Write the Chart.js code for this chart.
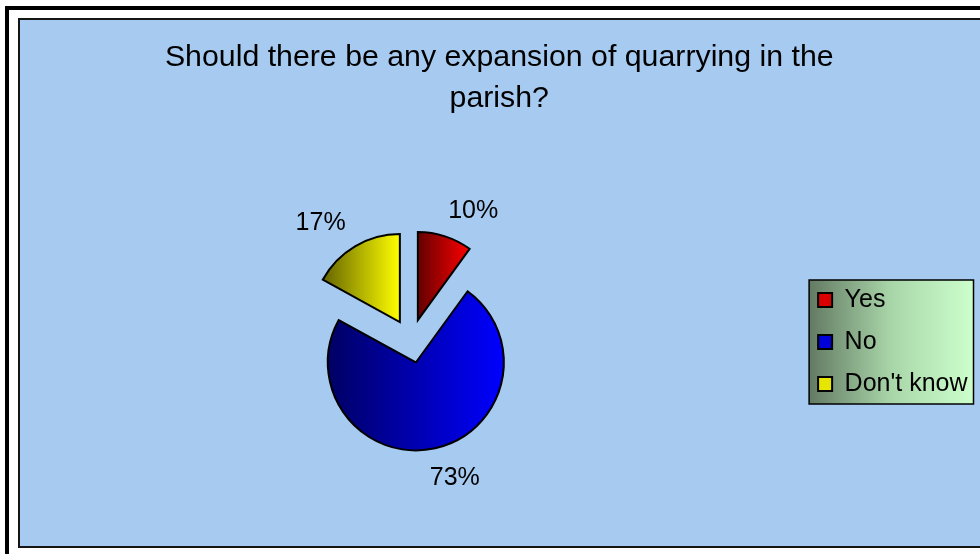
<!DOCTYPE html>
<html>
<head>
<meta charset="utf-8">
<script src="https://cdn.jsdelivr.net/npm/chart.js@4.4.0/dist/chart.umd.min.js"></script>
<style>
html,body{margin:0;padding:0;background:#fff;width:980px;height:554px;overflow:hidden;}
#outer{position:absolute;left:5px;top:6px;width:1000px;height:560px;border:4px solid #000;box-sizing:border-box;}
#inner{position:absolute;left:18px;top:18px;width:1000px;height:530px;background:#A6CAF0;border:2px solid #151515;box-sizing:border-box;}
#c{position:absolute;left:0;top:0;}
</style>
</head>
<body>
<div id="outer"></div>
<div id="inner"></div>
<canvas id="c" width="980" height="554"></canvas>
<script>
// ---- data ----
const categories = ['Yes', 'No', "Don't know"];
const values = [10, 73, 17];
const titleLines = ['Should there be any expansion of quarrying in the', 'parish?'];

// ---- styles ----
const brightColors = ['#FF0000', '#0000FF', '#FFFF00'];
const darkColors = ['#640000', '#000064', '#646400'];
const legendColors = ['#D80000', '#0000D8', '#E6E600'];
const FONT = "'Liberation Sans', Arial, Helvetica, sans-serif";
const EXPLODE = 22;
const PIE_RADIUS = 88;

const total = values.reduce((a, b) => a + b, 0);
const pctText = values.map(v => Math.round(v / total * 100) + '%');

const explodePlugin = {
  id: 'explode',
  beforeDatasetDraw(chart, args) {
    const ctx = chart.ctx;
    args.meta.data.forEach((arc, i) => {
      const mid = (arc.startAngle + arc.endAngle) / 2;
      const ox = Math.cos(mid) * EXPLODE, oy = Math.sin(mid) * EXPLODE;
      let minX = arc.x, maxX = arc.x;
      const n = 180;
      for (let k = 0; k <= n; k++) {
        const a = arc.startAngle + (arc.endAngle - arc.startAngle) * k / n;
        const x = arc.x + Math.cos(a) * arc.outerRadius;
        minX = Math.min(minX, x); maxX = Math.max(maxX, x);
      }
      const g = ctx.createLinearGradient(minX, 0, maxX, 0);
      g.addColorStop(0, darkColors[i]);
      g.addColorStop(1, brightColors[i]);
      const saved = arc.options.backgroundColor;
      arc.options.backgroundColor = g;
      ctx.save();
      ctx.translate(ox, oy);
      arc.draw(ctx);
      ctx.restore();
      arc.options.backgroundColor = saved;
    });
    return false;
  },
  afterDatasetsDraw(chart) {
    const ctx = chart.ctx;
    const meta = chart.getDatasetMeta(0);
    ctx.save();
    ctx.font = '25px ' + FONT;
    ctx.fillStyle = '#000';
    ctx.textAlign = 'left';
    ctx.textBaseline = 'alphabetic';
    const clamp = v => Math.max(-1, Math.min(1, v));
    meta.data.forEach((arc, i) => {
      const mid = (arc.startAngle + arc.endAngle) / 2;
      const dx = Math.cos(mid), dy = Math.sin(mid);
      const D = arc.outerRadius + EXPLODE + 19;
      const px = arc.x + dx * D, py = arc.y + dy * D;
      const txt = pctText[i];
      const m = ctx.measureText(txt);
      const w = m.actualBoundingBoxLeft + m.actualBoundingBoxRight;
      const h = m.actualBoundingBoxAscent;
      const left = px - w * (1 - clamp(3 * dx)) / 2;
      const top = py - h * (1 - clamp(3 * dy)) / 2;
      ctx.fillText(txt, left + m.actualBoundingBoxLeft, top + h);
    });
    ctx.restore();
  }
};

const legendBgPlugin = {
  id: 'legendBg',
  beforeDraw(chart) {
    const lg = chart.legend;
    if (!lg || !lg.legendHitBoxes || !lg.legendHitBoxes.length) return;
    const hb = lg.legendHitBoxes;
    const first = hb[0], last = hb[hb.length - 1];
    let right = 0;
    hb.forEach(h => { right = Math.max(right, h.left + h.width); });
    const x0 = first.left - 9, x1 = right + 6;
    const y0 = first.top - 7.5, y1 = last.top + last.height + 7.5;
    const ctx = chart.ctx;
    ctx.save();
    const g = ctx.createLinearGradient(x0, 0, x1, 0);
    g.addColorStop(0, '#637A63');
    g.addColorStop(0.5, '#A9D6A9');
    g.addColorStop(1, '#CCFFCC');
    ctx.fillStyle = g;
    ctx.fillRect(x0, y0, x1 - x0, y1 - y0);
    ctx.lineWidth = 1.5;
    ctx.strokeStyle = '#000';
    ctx.strokeRect(x0, y0, x1 - x0, y1 - y0);
    ctx.restore();
  }
};

Chart.defaults.font.family = FONT;

new Chart(document.getElementById('c'), {
  type: 'pie',
  data: {
    labels: categories,
    datasets: [{
      data: values,
      backgroundColor: legendColors,
      borderColor: '#000',
      borderWidth: 2,
      borderJoinStyle: 'miter',
      radius: PIE_RADIUS
    }]
  },
  options: {
    responsive: false,
    animation: false,
    devicePixelRatio: 1,
    events: [],
    layout: { padding: { left: 21, right: 2.5, top: 0, bottom: 0 } },
    plugins: {
      title: {
        display: true,
        text: titleLines,
        color: '#000',
        font: { family: FONT, size: 30.3, weight: 'normal', lineHeight: 41 / 30.3 },
        padding: { top: 37, bottom: 9 }
      },
      legend: {
        position: 'right',
        title: { display: true, text: '', padding: 0, font: { size: 10, lineHeight: 13.0 } },
        labels: {
          color: '#000',
          font: { family: FONT, size: 25 },
          boxWidth: 14,
          boxHeight: 14,
          padding: 17
        }
      },
      tooltip: { enabled: false }
    }
  },
  plugins: [legendBgPlugin, explodePlugin]
});
</script>
</body>
</html>
